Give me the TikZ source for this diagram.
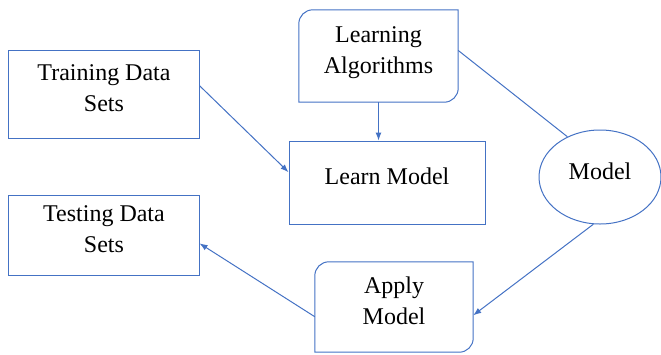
\documentclass[tikz,border=0pt]{standalone}
\usepackage{fontspec}
\setmainfont{Liberation Serif}
\usetikzlibrary{shapes.geometric, arrows.meta}
\definecolor{edgeblue}{HTML}{4472C4}

\tikzset{
  txt/.style={align=center, inner sep=0pt, text depth=12bp, font=\fontsize{24bp}{31bp}\selectfont},
  box/.style={txt, draw=edgeblue, line width=1bp, rectangle},
  softbox/.style={txt, rectangle},
  line/.style={draw=edgeblue, line width=1bp},
}

\begin{document}
\begin{tikzpicture}[>={Latex[length=8bp, width=6bp]}, x=1bp, y=-1bp]
\useasboundingbox (0,0) rectangle (661,354);

% plain boxes
\node[box, minimum width=190bp, minimum height=88bp] (train) at (104,94) {Training Data\\Sets};
\node[box, minimum width=190bp, minimum height=80bp] (test) at (104,235) {Testing Data\\Sets};
\node[box, minimum width=196bp, minimum height=83bp] (learn) at (387,182.5) {Learn Model};

% boxes with two round corners
\node[softbox, minimum width=159bp, minimum height=92bp] (algo) at (378.5,56) {Learning\\Algorithms};
\node[softbox, minimum width=158bp, minimum height=90bp] (apply) at (394,307) {Apply\\Model};
\foreach \n in {algo, apply}
{
    \draw[line] (\n.south west) -- ([yshift=-14bp]\n.north west)
        arc[start angle=180, end angle=90, radius=14bp] -- (\n.north east)
        -- ([yshift=14bp]\n.south east)
        arc[start angle=0, end angle=-90, radius=14bp] -- cycle;
}

\node[txt, ellipse, draw=edgeblue, line width=1bp, minimum width=122bp, minimum height=94bp] (model) at (600,177) {Model};

% connectors
\draw[line, ->] (train.5) -- (learn.174);
\draw[line, ->] (algo.south) -- (algo.south |- learn.north);
\draw[line] (algo.4) -- (model.129);
\draw[line, ->] (model.262) -- (apply.-6);
\draw[line, ->] (apply.187) -- (test.-5);
\end{tikzpicture}
\end{document}
